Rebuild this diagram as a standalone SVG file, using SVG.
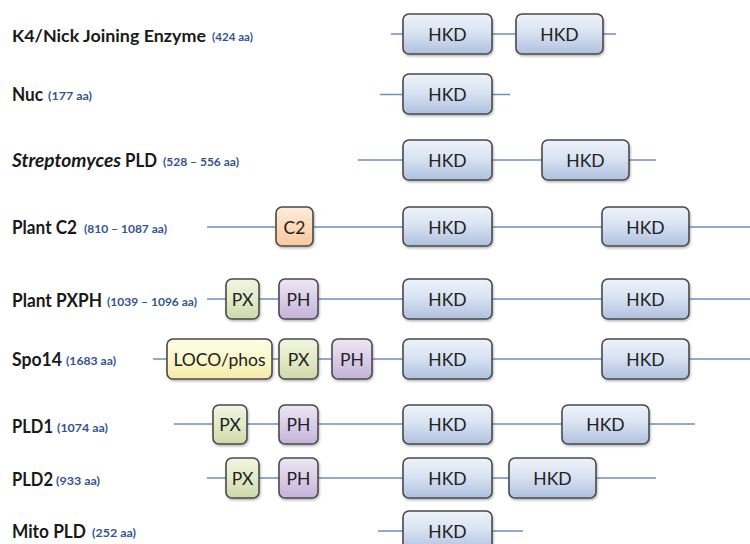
<svg xmlns="http://www.w3.org/2000/svg" width="750" height="544" viewBox="0 0 750 544">
<defs>
<linearGradient id="gB" x1="0" y1="0" x2="0" y2="1"><stop offset="0" stop-color="#eef3fa"/><stop offset="0.45" stop-color="#d9e3f2"/><stop offset="1" stop-color="#afc1df"/></linearGradient>
<linearGradient id="gO" x1="0" y1="0" x2="0" y2="1"><stop offset="0" stop-color="#feecdc"/><stop offset="0.5" stop-color="#fcdabb"/><stop offset="1" stop-color="#f7c89e"/></linearGradient>
<linearGradient id="gY" x1="0" y1="0" x2="0" y2="1"><stop offset="0" stop-color="#fefce6"/><stop offset="0.5" stop-color="#fcf8cb"/><stop offset="1" stop-color="#f3eaa9"/></linearGradient>
<linearGradient id="gG" x1="0" y1="0" x2="0" y2="1"><stop offset="0" stop-color="#f1f5e1"/><stop offset="0.5" stop-color="#e3eac6"/><stop offset="1" stop-color="#cdd9aa"/></linearGradient>
<linearGradient id="gP" x1="0" y1="0" x2="0" y2="1"><stop offset="0" stop-color="#ede6f3"/><stop offset="0.5" stop-color="#dacde7"/><stop offset="1" stop-color="#c4b2d8"/></linearGradient>
<filter id="sh" x="-10%" y="-10%" width="130%" height="140%"><feDropShadow dx="0.8" dy="1.5" stdDeviation="1" flood-color="#000" flood-opacity="0.3"/></filter>
<style>
.lbl{font-family:Lato,"Liberation Sans",sans-serif;font-weight:700;font-size:19px;fill:#1a1a1a}
.it{font-style:italic}
.aa{font-family:Lato,"Liberation Sans",sans-serif;font-weight:700;font-size:11.5px;fill:#34548f}
.box{stroke:#4a4a4a;stroke-width:1.6;filter:url(#sh)}
.hkd{fill:url(#gB)}
.c2{fill:url(#gO)}
.loco{fill:url(#gY)}
.px{fill:url(#gG)}
.ph{fill:url(#gP)}
.bt{font-family:Lato,"Liberation Sans",sans-serif;font-size:17.5px;fill:#222;text-anchor:middle}
.ln{stroke:#6f8fc2;stroke-width:1.3;fill:none}
</style>
</defs>
<rect width="750" height="544" fill="#fff"/>

<g id="labels">
<text class="lbl" x="12" y="42" style="font-size:17.5px" textLength="194" lengthAdjust="spacingAndGlyphs">K4/Nick Joining Enzyme</text>
<text class="aa" x="212" y="41" textLength="41" lengthAdjust="spacingAndGlyphs">(424 aa)</text>
<text class="lbl" x="12" y="101" textLength="31" lengthAdjust="spacingAndGlyphs">Nuc</text>
<text class="aa" x="48" y="100" textLength="44" lengthAdjust="spacingAndGlyphs">(177 aa)</text>
<text class="lbl it" x="12" y="167" textLength="109" lengthAdjust="spacingAndGlyphs">Streptomyces</text>
<text class="lbl" x="125" y="167" textLength="32" lengthAdjust="spacingAndGlyphs">PLD</text>
<text class="aa" x="163" y="166" textLength="76" lengthAdjust="spacingAndGlyphs">(528 – 556 aa)</text>
<text class="lbl" x="12" y="234" textLength="65" lengthAdjust="spacingAndGlyphs">Plant C2</text>
<text class="aa" x="84" y="233" textLength="83" lengthAdjust="spacingAndGlyphs">(810 – 1087 aa)</text>
<text class="lbl" x="12" y="307" textLength="90" lengthAdjust="spacingAndGlyphs">Plant PXPH</text>
<text class="aa" x="107" y="306" textLength="90" lengthAdjust="spacingAndGlyphs">(1039 – 1096 aa)</text>
<text class="lbl" x="12" y="366" textLength="50" lengthAdjust="spacingAndGlyphs">Spo14</text>
<text class="aa" x="66" y="365" textLength="50" lengthAdjust="spacingAndGlyphs">(1683 aa)</text>
<text class="lbl" x="12" y="433" textLength="41" lengthAdjust="spacingAndGlyphs">PLD1</text>
<text class="aa" x="57" y="432" textLength="51" lengthAdjust="spacingAndGlyphs">(1074 aa)</text>
<text class="lbl" x="12" y="486" textLength="41" lengthAdjust="spacingAndGlyphs">PLD2</text>
<text class="aa" x="56" y="485" textLength="44" lengthAdjust="spacingAndGlyphs">(933 aa)</text>
<text class="lbl" x="12" y="538" textLength="74" lengthAdjust="spacingAndGlyphs">Mito PLD</text>
<text class="aa" x="92" y="537" textLength="44" lengthAdjust="spacingAndGlyphs">(252 aa)</text>
</g>

<g id="connectors">
<path class="ln" d="M391 34H403M492 34H516M603 34H616"/>
<path class="ln" d="M380 94.5H403M492 94.5H510"/>
<path class="ln" d="M358 160H403M492 160H542M629 160H656"/>
<path class="ln" d="M207 227H276M313 227H403M492 227H602M689 227H750"/>
<path class="ln" d="M207 299H226M259 299H279M318 299H403M492 299H602M689 299H750"/>
<path class="ln" d="M153 359H167M272 359H279M318 359H332M372 359H403M492 359H602M689 359H750"/>
<path class="ln" d="M174 424H213M247 424H279M318 424H403M492 424H562M649 424H695"/>
<path class="ln" d="M207 478H226M259 478H279M318 478H403M492 478H509M596 478H656"/>
<path class="ln" d="M378 531H403M492 531H523"/>
</g>

<g id="k4-hkd1"><rect class="box hkd" x="403" y="14" width="89" height="40" rx="6"/><text class="bt" x="447.5" y="40.5">HKD</text></g>
<g id="k4-hkd2"><rect class="box hkd" x="516" y="14" width="87" height="40" rx="6"/><text class="bt" x="559.5" y="40.5">HKD</text></g>

<g id="nuc-hkd"><rect class="box hkd" x="403" y="74" width="89" height="40" rx="6"/><text class="bt" x="447.5" y="101">HKD</text></g>

<g id="strep-hkd1"><rect class="box hkd" x="403" y="140" width="89" height="40" rx="6"/><text class="bt" x="447.5" y="166.5">HKD</text></g>
<g id="strep-hkd2"><rect class="box hkd" x="542" y="140" width="87" height="40" rx="6"/><text class="bt" x="585.5" y="166.5">HKD</text></g>

<g id="c2-c2"><rect class="box c2" x="276" y="207" width="37" height="39" rx="6"/><text class="bt" x="294.5" y="233.5">C2</text></g>
<g id="c2-hkd1"><rect class="box hkd" x="403" y="207" width="89" height="39" rx="6"/><text class="bt" x="447.5" y="233.5">HKD</text></g>
<g id="c2-hkd2"><rect class="box hkd" x="602" y="207" width="87" height="39" rx="6"/><text class="bt" x="645.5" y="233.5">HKD</text></g>

<g id="pxph-px"><rect class="box px" x="226" y="279" width="33" height="40" rx="6"/><text class="bt" x="242.5" y="305.5">PX</text></g>
<g id="pxph-ph"><rect class="box ph" x="279" y="279" width="39" height="40" rx="6"/><text class="bt" x="298.5" y="305.5">PH</text></g>
<g id="pxph-hkd1"><rect class="box hkd" x="403" y="279" width="89" height="40" rx="6"/><text class="bt" x="447.5" y="305.5">HKD</text></g>
<g id="pxph-hkd2"><rect class="box hkd" x="602" y="279" width="87" height="40" rx="6"/><text class="bt" x="645.5" y="305.5">HKD</text></g>

<g id="spo-loco"><rect class="box loco" x="167" y="339" width="105" height="40" rx="6"/><text class="bt" x="219.5" y="365.5">LOCO/phos</text></g>
<g id="spo-px"><rect class="box px" x="279" y="339" width="39" height="40" rx="6"/><text class="bt" x="298.5" y="365.5">PX</text></g>
<g id="spo-ph"><rect class="box ph" x="332" y="339" width="40" height="40" rx="6"/><text class="bt" x="352" y="365.5">PH</text></g>
<g id="spo-hkd1"><rect class="box hkd" x="403" y="339" width="89" height="40" rx="6"/><text class="bt" x="447.5" y="365.5">HKD</text></g>
<g id="spo-hkd2"><rect class="box hkd" x="602" y="339" width="87" height="40" rx="6"/><text class="bt" x="645.5" y="365.5">HKD</text></g>

<g id="pld1-px"><rect class="box px" x="213" y="405" width="34" height="39" rx="6"/><text class="bt" x="230" y="431">PX</text></g>
<g id="pld1-ph"><rect class="box ph" x="279" y="405" width="39" height="39" rx="6"/><text class="bt" x="298.5" y="431">PH</text></g>
<g id="pld1-hkd1"><rect class="box hkd" x="403" y="405" width="89" height="39" rx="6"/><text class="bt" x="447.5" y="431">HKD</text></g>
<g id="pld1-hkd2"><rect class="box hkd" x="562" y="405" width="87" height="39" rx="6"/><text class="bt" x="605.5" y="431">HKD</text></g>

<g id="pld2-px"><rect class="box px" x="226" y="458" width="33" height="40" rx="6"/><text class="bt" x="242.5" y="484.5">PX</text></g>
<g id="pld2-ph"><rect class="box ph" x="279" y="458" width="39" height="40" rx="6"/><text class="bt" x="298.5" y="484.5">PH</text></g>
<g id="pld2-hkd1"><rect class="box hkd" x="403" y="458" width="89" height="40" rx="6"/><text class="bt" x="447.5" y="484.5">HKD</text></g>
<g id="pld2-hkd2"><rect class="box hkd" x="509" y="458" width="87" height="40" rx="6"/><text class="bt" x="552.5" y="484.5">HKD</text></g>

<g id="mito-hkd"><rect class="box hkd" x="403" y="511" width="89" height="40" rx="6"/><text class="bt" x="447.5" y="537.5">HKD</text></g>
</svg>
